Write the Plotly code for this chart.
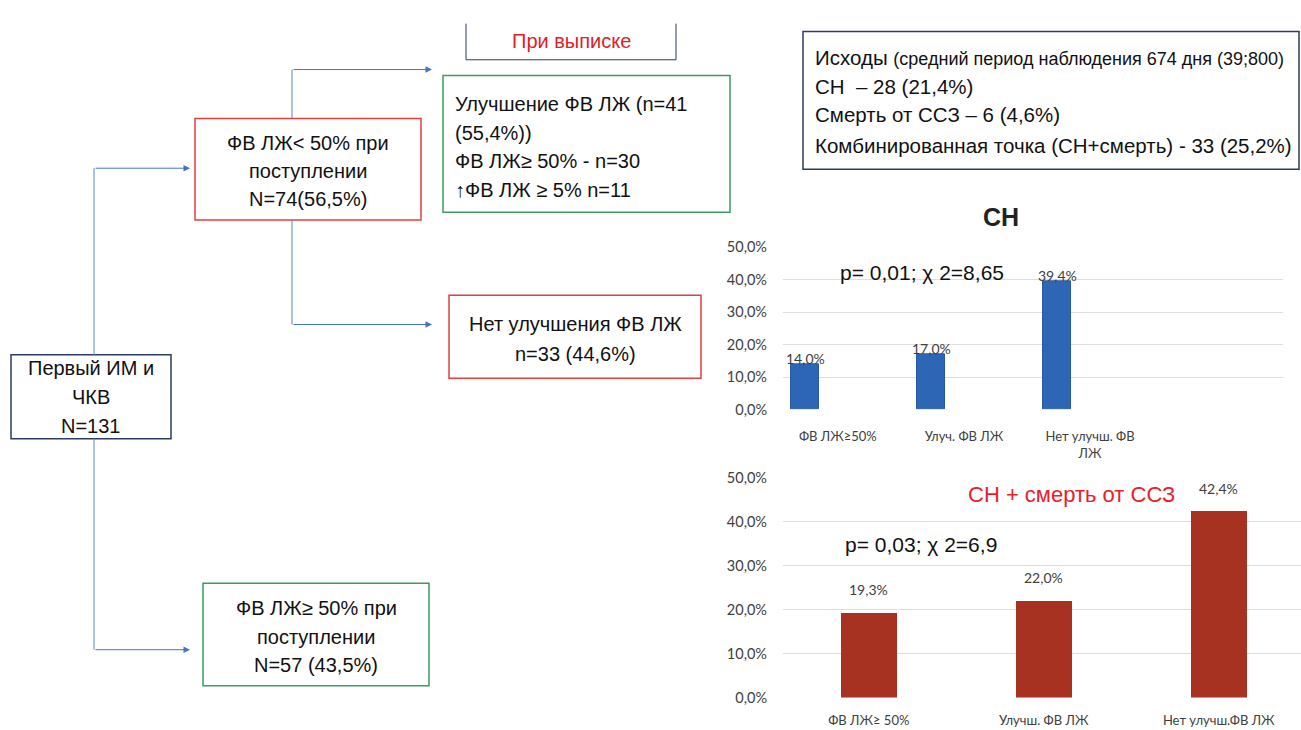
import plotly.graph_objects as go

W, H = 1301, 730

# ---------------- data ----------------
hf_categories = ["ФВ ЛЖ≥50%", "Улуч. ФВ ЛЖ", "Нет улучш. ФВ<br>ЛЖ"]
hf_values = [14.0, 17.0, 39.4]
hf_title = "СН"
hf_stat = "p= 0,01; χ 2=8,65"

comb_categories = ["ФВ ЛЖ≥ 50%", "Улучш. ФВ ЛЖ", "Нет улучш.ФВ ЛЖ"]
comb_values = [19.3, 22.0, 42.4]
comb_title = "СН + смерть от ССЗ"
comb_stat = "p= 0,03; χ 2=6,9"

y_ticks = [0, 10, 20, 30, 40, 50]

outcomes_lines = [
    "Исходы <span style='font-size:18px'>(средний период наблюдения 674 дня (39;800)</span>",
    "СН  – 28 (21,4%)",
    "Смерть от ССЗ – 6 (4,6%)",
    "Комбинированная точка (СН+смерть) - 33 (25,2%)",
]

FONT = "Liberation Sans, Arial, sans-serif"
TICKFONT = "Lato, Calibri, sans-serif"


def px(x):
    return x / W


def py(y):
    return 1 - y / H


def fmt(v):
    return f"{v:.1f}".replace(".", ",") + "%"


fig = go.Figure()

# ---------------- bar charts ----------------
x1 = list(range(len(hf_values)))
fig.add_trace(go.Bar(x=x1, y=hf_values, width=0.22,
                     marker=dict(color="#2e66b6", line=dict(color="#285a9f", width=1)),
                     xaxis="x", yaxis="y", showlegend=False, hoverinfo="skip"))
x2 = list(range(len(comb_values)))
fig.add_trace(go.Bar(x=x2, y=comb_values, width=0.32,
                     marker=dict(color="#a83222", line=dict(color="#a83222", width=0)),
                     xaxis="x2", yaxis="y2", showlegend=False, hoverinfo="skip"))

grid = "#dedede"
tickfont = dict(family=TICKFONT, size=14.5, color="#404040")
catfont = dict(family=TICKFONT, size=13, color="#404040")
ytext = [fmt(v) for v in y_ticks]

fig.update_layout(
    width=W, height=H,
    margin=dict(l=0, r=0, t=0, b=0),
    paper_bgcolor="white", plot_bgcolor="white",
    bargap=0,
    xaxis=dict(domain=[px(783), px(1283)], range=[-0.175, 3.79], anchor="y",
               tickvals=[v + 0.26 for v in x1], ticktext=hf_categories, tickfont=catfont,
               ticklabelstandoff=18,
               showgrid=False, zeroline=False, showline=False, ticks="", fixedrange=True),
    yaxis=dict(domain=[py(410), py(244)], range=[0, 50], anchor="x",
               tickvals=y_ticks, ticktext=ytext, tickfont=tickfont,
               showgrid=True, gridcolor=grid, gridwidth=1, zeroline=False,
               showline=False, ticks="", ticklabelstandoff=15, fixedrange=True),
    xaxis2=dict(domain=[px(783), 1.0], range=[-0.49, 2.47], anchor="y2",
                tickvals=x2, ticktext=comb_categories, tickfont=catfont,
                ticklabelstandoff=13,
                showgrid=False, zeroline=False, showline=False, ticks="", fixedrange=True),
    yaxis2=dict(domain=[py(705), py(480)], range=[0, 50], anchor="x2",
                tickvals=y_ticks, ticktext=ytext, tickfont=tickfont,
                showgrid=True, gridcolor=grid, gridwidth=1, zeroline=False,
                showline=False, ticks="", ticklabelstandoff=15, fixedrange=True),
)

ann = []
for xi, v in zip(x1, hf_values):
    ann.append(dict(x=xi, y=v, xref="x", yref="y", text=fmt(v), showarrow=False,
                    xanchor="center", yanchor="middle", yshift=6,
                    font=dict(family=TICKFONT, size=14, color="#404040")))
for xi, v in zip(x2, comb_values):
    ann.append(dict(x=xi, y=v, xref="x2", yref="y2", text=fmt(v), showarrow=False,
                    xanchor="center", yanchor="middle", yshift=23,
                    font=dict(family=TICKFONT, size=14, color="#404040")))


def text(x, y, s, size=20, color="#111111", anchor="center"):
    ann.append(dict(x=px(x), y=py(y), xref="paper", yref="paper", text=s, showarrow=False,
                    xanchor=anchor, yanchor="middle",
                    font=dict(family=FONT, size=size, color=color)))


text(1001, 213, f"<b>{hf_title}</b>", size=25, color="#222222")
text(922, 270, hf_stat, size=21)
text(1071, 497, comb_title, size=22, color="#e8202a")
text(921, 548, comb_stat, size=21)

# ---------------- flowchart ----------------
shapes = []


def box(x0, y0, x1_, y1, color, width=1.5):
    shapes.append(dict(type="rect", xref="paper", yref="paper",
                       x0=px(x0), x1=px(x1_), y0=py(y1), y1=py(y0),
                       line=dict(color=color, width=width), fillcolor="rgba(0,0,0,0)"))


def line(xa, ya, xb, yb, color="#5b82c4"):
    shapes.append(dict(type="line", xref="paper", yref="paper",
                       x0=px(xa), y0=py(ya), x1=px(xb), y1=py(yb),
                       line=dict(color=color, width=1)))


def arrow(xa, y, xb, color="#4472c4"):
    ann.append(dict(x=px(xb), y=py(y), xref="paper", yref="paper", ax=xa - xb, ay=0,
                    axref="pixel", ayref="pixel", text="", showarrow=True,
                    arrowhead=2, arrowsize=1.3, arrowwidth=1, arrowcolor=color))


RED = "#e2403e"
GREEN = "#3d9a62"
NAVY = "#2b3d63"

# "При выписке" (top border cut off)
line(466, 15, 466, 52, NAVY)
line(676, 15, 676, 52, NAVY)
line(466, 52, 676, 52, NAVY)
text(571, 33, "При выписке", size=20, color="#e0202a")

# Outcomes box
box(803, 23, 1299, 164, NAVY)
for i, s in enumerate(outcomes_lines):
    text(813, [50, 79, 108, 140][i], s, size=20.5, anchor="left")

# First box
box(11, 354, 171, 440, NAVY)
for s, y in zip(["Первый ИМ и", "ЧКВ", "N=131"], [368, 397, 427]):
    text(91, y, s)

# LVEF < 50%
box(195, 112, 421, 216, RED)
for s, y in zip(["ФВ ЛЖ< 50% при", "поступлении", "N=74(56,5%)"], [137, 166, 195]):
    text(308, y, s)

# Improvement
box(443, 68, 730, 208, GREEN)
for s, y in zip(["Улучшение ФВ ЛЖ (n=41", "(55,4%))", "ФВ ЛЖ≥ 50% - n=30", "↑ФВ ЛЖ ≥ 5% n=11"],
                [97, 127, 156, 185]):
    text(453, y, s, anchor="left")

# No improvement
box(449, 293, 701, 378, RED)
for s, y in zip(["Нет улучшения ФВ ЛЖ", "n=33 (44,6%)"], [323, 353]):
    text(575, y, s)

# LVEF >= 50%
box(203, 588, 429, 693, GREEN)
for s, y in zip(["ФВ ЛЖ≥ 50% при", "поступлении", "N=57 (43,5%)"], [613, 643, 672]):
    text(316, y, s)

# connectors
line(94, 163, 94, 354)
arrow(94, 163, 190)
line(94, 440, 94, 656)
arrow(94, 656, 190)
line(292, 62, 292, 112)
line(292, 216, 292, 323)
arrow(292, 62, 432)
arrow(292, 323, 432)

fig.update_layout(shapes=shapes, annotations=ann)
fig.write_html("out.html")
